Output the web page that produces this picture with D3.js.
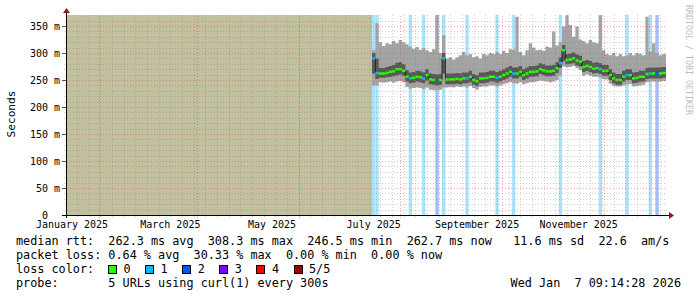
<!DOCTYPE html>
<html>
<head>
<meta charset="utf-8">
<script src="https://cdn.jsdelivr.net/npm/d3@7"></script>
<style>
body { margin: 0; background: #fff; }
svg { display: block; font-family: "DejaVu Sans Mono", monospace; }
</style>
</head>
<body>
<script>
// chart size and plot box (rrdtool style layout)
var w = 697, h = 297;
var plotLeft = 66, plotRight = 666, plotTop = 15, plotBottom = 215;

// time range of the graph (last 360 days)
var rangeStart = "2025-01-12T09:14:28Z";
var rangeEnd = "2026-01-07T09:14:28Z";

// data begins here, one consolidated sample every 2 days
var firstSample = "2025-07-15T00:00:00Z";
var sampleDays = 2;

// median rtt in ms
var median = [290, 263, 262, 262, 263, 265, 266, 270, 270, 267,
  256, 253, 254, 256, 255, 253, 259, 251, 250, 249,
  250, 290, 251, 251, 251, 252, 251, 253, 253, 256,
  250, 248, 253, 253, 254, 256, 256, 254, 256, 259,
  262, 265, 262, 262, 265, 259, 262, 265, 265, 266,
  270, 268, 266, 266, 267, 272, 281, 305, 287, 288,
  290, 286, 284, 274, 276, 274, 271, 272, 270, 267,
  267, 259, 253, 250, 250, 256, 259, 259, 253, 254,
  256, 256, 261, 262, 262, 262, 262, 263];

// smoke: fastest, 2nd, 4th and slowest of the 5 probes (ms)
var ping1 = [240, 240, 246, 245, 246, 247, 245, 247, 248, 246,
  237, 234, 235, 236, 235, 233, 236, 232, 231, 231,
  232, 236, 236, 237, 236, 238, 237, 238, 236, 239,
  235, 232, 237, 238, 238, 240, 240, 238, 240, 242,
  244, 246, 244, 243, 246, 242, 244, 246, 246, 247,
  249, 248, 247, 246, 247, 250, 258, 275, 273, 274,
  276, 272, 268, 258, 260, 258, 256, 256, 254, 252,
  251, 243, 239, 238, 238, 240, 242, 242, 238, 239,
  240, 241, 246, 247, 247, 246, 247, 248];

var ping2 = [262, 252, 254, 254, 255, 256, 257, 259, 260, 258,
  247, 244, 245, 247, 246, 244, 249, 242, 241, 240,
  241, 262, 242, 242, 242, 243, 242, 244, 244, 246,
  241, 239, 244, 244, 245, 247, 247, 245, 247, 250,
  253, 256, 253, 253, 256, 250, 253, 256, 256, 257,
  261, 259, 257, 257, 258, 263, 272, 285, 279, 280,
  281, 277, 275, 265, 267, 265, 262, 263, 261, 258,
  258, 250, 244, 241, 241, 247, 250, 250, 244, 245,
  247, 247, 252, 253, 253, 253, 253, 254];

var ping4 = [300, 290, 272, 272, 274, 276, 278, 282, 283, 279,
  268, 264, 265, 267, 266, 264, 270, 262, 261, 260,
  261, 300, 262, 262, 262, 263, 262, 264, 264, 267,
  261, 259, 264, 264, 265, 267, 267, 265, 267, 270,
  273, 276, 273, 273, 276, 270, 273, 276, 276, 277,
  281, 279, 277, 277, 278, 283, 292, 315, 298, 299,
  301, 297, 295, 285, 287, 285, 282, 283, 281, 278,
  278, 270, 264, 261, 261, 267, 270, 270, 264, 265,
  267, 267, 272, 273, 273, 273, 273, 274];

var ping5 = [305, 355, 320, 313, 318, 316, 322, 318, 324, 320,
  316, 312, 308, 311, 306, 309, 305, 302, 307, 370,
  300, 333, 290, 292, 288, 292, 296, 302, 296, 298,
  292, 294, 290, 298, 296, 300, 298, 302, 298, 304,
  300, 307, 306, 367, 302, 296, 305, 318, 310, 305,
  306, 304, 312, 310, 340, 314, 320, 349, 370, 352,
  330, 349, 325, 322, 318, 324, 320, 318, 370, 305,
  298, 296, 300, 294, 298, 294, 296, 300, 296, 300,
  298, 296, 367, 303, 318, 300, 296, 298];

// lost probes per sample (of 5)
var loss = [1, 1, 0, 0, 0, 0, 0, 0, 0, 0,
  0, 1, 0, 0, 0, 1, 0, 0, 0, 2,
  0, 1, 0, 0, 0, 0, 0, 0, 1, 0,
  0, 0, 0, 0, 0, 0, 0, 1, 0, 0,
  0, 0, 1, 0, 0, 0, 0, 0, 0, 0,
  0, 0, 0, 0, 0, 0, 1, 0, 0, 0,
  0, 0, 0, 0, 0, 0, 0, 0, 1, 0,
  0, 0, 0, 0, 0, 0, 1, 0, 0, 0,
  0, 0, 0, 1, 0, 2, 0, 0];

// axis ticks
var yTicks = [0, 50, 100, 150, 200, 250, 300, 350];
var monthLabels = ["2025-01-01", "2025-03-01", "2025-05-01", "2025-07-01", "2025-09-01", "2025-11-01"];

// legend
var lossColors = ["#26ff00", "#00b8ff", "#0059ff", "#7e00ff", "#ff0000", "#a00000"];
var lossNames = ["0", "1", "2", "3", "4", "5/5"];
var lossBg = { 1: "#a9e3fb", 2: "#a4bcfa" };
var legendRows = [
  "median rtt:  262.3 ms avg  308.3 ms max  246.5 ms min  262.7 ms now   11.6 ms sd  22.6  am/s",
  "packet loss: 0.64 % avg  30.33 % max  0.00 % min  0.00 % now",
  "loss color:",
  "probe:       5 URLs using curl(1) every 300s"
];
var stamp = "Wed Jan  7 09:14:28 2026";

var t0 = new Date(rangeStart), t1 = new Date(rangeEnd);
var tFirst = new Date(firstSample);

var xScale = d3.scaleUtc().domain([t0, t1]).range([plotLeft, plotRight]);
var yScale = d3.scaleLinear().domain([0, 370.37]).range([plotBottom, plotTop]);

var samples = median.map(function(m, i) {
  return {
    t: d3.utcDay.offset(tFirst, i * sampleDays),
    med: m, p1: ping1[i], p2: ping2[i], p4: ping4[i], p5: ping5[i], loss: loss[i]
  };
});
samples.forEach(function(d, i) {
  d.tEnd = i < samples.length - 1 ? samples[i + 1].t : t1;
});
// extra point so step curves reach the right edge
var stepPts = samples.concat([Object.assign({}, samples[samples.length - 1], { t: t1 })]);

var svg = d3.select("body").append("svg")
  .attr("width", w).attr("height", h);

svg.append("rect").attr("width", w).attr("height", h).attr("fill", "#fff");

// unknown (no data) area
svg.append("rect")
  .attr("x", xScale(t0)).attr("y", plotTop)
  .attr("width", xScale(tFirst) - xScale(t0)).attr("height", plotBottom - plotTop)
  .attr("fill", "#c3c09f");

// loss background stripes
svg.selectAll(".lossbg")
  .data(samples.filter(function(d) { return d.loss > 0; }))
  .enter().append("rect")
  .attr("x", function(d) { return xScale(d.t); })
  .attr("y", plotTop)
  .attr("width", function(d) { return xScale(d.tEnd) - xScale(d.t); })
  .attr("height", plotBottom - plotTop)
  .attr("fill", function(d) { return lossBg[d.loss]; });

// smoke
var outer = d3.area().curve(d3.curveStepAfter)
  .x(function(d) { return xScale(d.t); })
  .y0(function(d) { return yScale(d.p1); })
  .y1(function(d) { return yScale(d.p5); });
var inner = d3.area().curve(d3.curveStepAfter)
  .x(function(d) { return xScale(d.t); })
  .y0(function(d) { return yScale(d.p2); })
  .y1(function(d) { return yScale(d.p4); });

svg.append("path").datum(stepPts).attr("d", outer).attr("fill", "#a4a4a4");
svg.append("path").datum(stepPts).attr("d", inner).attr("fill", "#585858");

// median: thin dark line, then loss coloured bars
var medLine = d3.line().curve(d3.curveStepAfter)
  .x(function(d) { return xScale(d.t); })
  .y(function(d) { return yScale(d.med); });
svg.append("path").datum(stepPts).attr("d", medLine)
  .attr("fill", "none").attr("stroke", "#202020").attr("stroke-width", 1);

svg.selectAll(".med")
  .data(samples)
  .enter().append("rect")
  .attr("x", function(d) { return xScale(d.t); })
  .attr("y", function(d) { return yScale(d.med) - 1.25; })
  .attr("width", function(d) { return xScale(d.tEnd) - xScale(d.t); })
  .attr("height", 2.5)
  .attr("fill", function(d) { return lossColors[d.loss]; });

// grid, drawn on top like rrdtool
var grid = svg.append("g").attr("shape-rendering", "crispEdges");
var minorCol = "rgba(120,120,120,0.35)", majorCol = "rgba(225,60,60,0.42)";

d3.range(10, 370, 10).filter(function(v) { return v % 50 !== 0; }).forEach(function(v) {
  var y = Math.round(yScale(v)) + 0.5;
  grid.append("line").attr("x1", plotLeft - 2).attr("x2", plotRight).attr("y1", y).attr("y2", y)
    .attr("stroke", minorCol).attr("stroke-dasharray", "1,2");
});
d3.utcSunday.range(t0, t1).forEach(function(t) {
  var x = Math.round(xScale(t)) + 0.5;
  grid.append("line").attr("x1", x).attr("x2", x).attr("y1", plotBottom + 2).attr("y2", plotTop)
    .attr("stroke", minorCol).attr("stroke-dasharray", "1,2");
});
yTicks.slice(1).forEach(function(v) {
  var y = Math.round(yScale(v)) + 0.5;
  grid.append("line").attr("x1", plotLeft - 2).attr("x2", plotRight).attr("y1", y).attr("y2", y)
    .attr("stroke", majorCol).attr("stroke-dasharray", "1,2");
  grid.append("line").attr("x1", plotLeft - 4).attr("x2", plotLeft).attr("y1", y).attr("y2", y)
    .attr("stroke", "#555");
});
d3.utcMonth.range(t0, t1).filter(function(t) { return t.getUTCMonth() % 2 === 1; }).forEach(function(t) {
  var x = Math.round(xScale(t)) + 0.5;
  grid.append("line").attr("x1", x).attr("x2", x).attr("y1", plotBottom + 3).attr("y2", plotTop)
    .attr("stroke", majorCol).attr("stroke-dasharray", "1,2");
});

// axes
var ax = svg.append("g").attr("shape-rendering", "crispEdges");
ax.append("line").attr("x1", plotLeft - 4).attr("x2", plotRight + 4)
  .attr("y1", plotBottom + 0.5).attr("y2", plotBottom + 0.5).attr("stroke", "#000");
ax.append("line").attr("x1", plotLeft + 0.5).attr("x2", plotLeft + 0.5)
  .attr("y1", plotBottom + 3).attr("y2", plotTop - 3).attr("stroke", "#000");
svg.append("path")
  .attr("d", "M" + (plotRight + 3) + "," + (plotBottom - 3) + " L" + (plotRight + 8) + "," + (plotBottom + 0.5) +
    " L" + (plotRight + 3) + "," + (plotBottom + 4) + "Z")
  .attr("fill", "#8c1c1c");
svg.append("path")
  .attr("d", "M" + (plotLeft - 3) + "," + (plotTop - 2) + " L" + (plotLeft + 0.5) + "," + (plotTop - 7) +
    " L" + (plotLeft + 4) + "," + (plotTop - 2) + "Z")
  .attr("fill", "#8c1c1c");

// y tick labels
svg.selectAll(".ylab")
  .data(yTicks)
  .enter().append("text")
  .attr("x", function(d) { return d === 0 ? 48 : 60; })
  .attr("y", function(d) { return yScale(d) + 3.6; })
  .attr("text-anchor", "end")
  .attr("font-size", "10px")
  .attr("fill", "#000")
  .text(function(d) { return d === 0 ? "0" : d + " m"; });

// x labels, centred half a month after the month start
var fmt = d3.utcFormat("%B %Y");
svg.selectAll(".xlab")
  .data(monthLabels.map(function(s) { return new Date(s + "T00:00:00Z"); }))
  .enter().append("text")
  .attr("x", function(d) { return xScale(d3.utcDay.offset(d, 15)); })
  .attr("y", 228)
  .attr("text-anchor", "middle")
  .attr("font-size", "10px")
  .text(function(d) { return fmt(d); });

// y title
svg.append("text")
  .attr("transform", "translate(15,114) rotate(-90)")
  .attr("text-anchor", "middle")
  .attr("font-size", "11.2px")
  .text("Seconds");

// watermark
svg.append("text")
  .attr("transform", "translate(685.5,5) rotate(90)")
  .attr("font-size", "8.3px")
  .attr("fill", "#bdbdbd")
  .text("RRDTOOL / TOBI OETIKER");

// legend
var rowY = [245, 259, 273, 287];
legendRows.forEach(function(s, i) {
  svg.append("text")
    .attr("x", 16).attr("y", rowY[i])
    .attr("font-size", "11.8px")
    .style("white-space", "pre")
    .text(s);
});
lossColors.forEach(function(c, j) {
  var bx = 108.5 + 37.1 * j;
  svg.append("rect").attr("x", bx).attr("y", 265.5).attr("width", 8).attr("height", 8)
    .attr("fill", c).attr("stroke", "#000").attr("stroke-width", 1)
    .attr("shape-rendering", "crispEdges");
  svg.append("text").attr("x", bx + 15).attr("y", 273).attr("font-size", "11.8px")
    .text(lossNames[j]);
});
svg.append("text")
  .attr("x", 681).attr("y", 287)
  .attr("text-anchor", "end")
  .attr("font-size", "11.8px")
  .style("white-space", "pre")
  .text(stamp);
</script>
</body>
</html>
